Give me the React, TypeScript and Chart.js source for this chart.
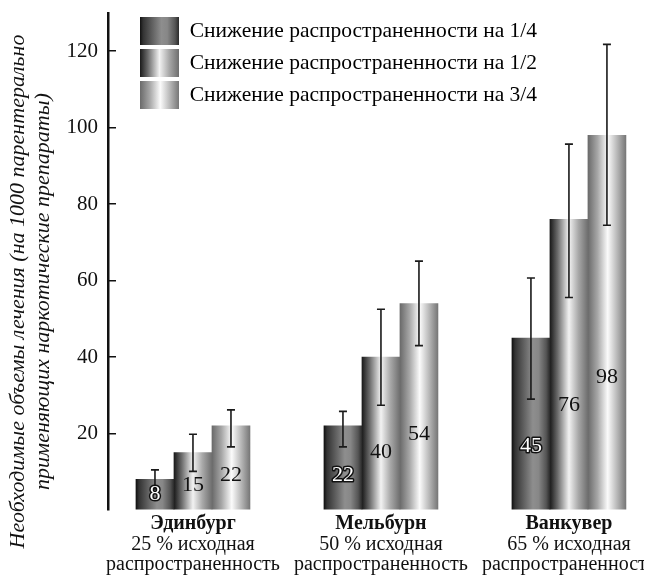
import React, { useEffect, useRef } from 'react';
import { Chart, registerables } from 'chart.js';

Chart.register(...registerables);

// ---- data ----
const categories = ['Эдинбург', 'Мельбурн', 'Ванкувер'];
const prevalenceLabels = ['25 % исходная', '50 % исходная', '65 % исходная'];
const prevalenceWord = ['распространенность', 'распространенность', 'распространенность'];
const seriesNames = [
  'Снижение распространенности на 1/4',
  'Снижение распространенности на 1/2',
  'Снижение распространенности на 3/4',
];
const quarter = [8, 22, 45];
const half = [15, 40, 76];
const threeQuarters = [22, 54, 98];
const quarterLow = [5.5, 16.5, 29.0];
const quarterHigh = [10.5, 25.8, 60.7];
const halfLow = [10.1, 27.4, 55.6];
const halfHigh = [19.8, 52.5, 95.7];
const threeQuartersLow = [16.5, 43.0, 74.5];
const threeQuartersHigh = [26.2, 65.1, 121.8];
const yTicks = [20, 40, 60, 80, 100, 120];
const yTitle = [
  'Необходимые объемы лечения (на 1000 парентерально',
  'применяющих наркотические препараты)',
];

const SERIF = "'Liberation Serif', 'DejaVu Serif', serif";
const BAR_W = 38;

type Stop = [number, string];
const STOPS: Stop[][] = [
  [[0, '#111111'], [0.08, '#333333'], [0.55, '#8e8e8e'], [0.7, '#878787'], [0.9, '#555555'], [1, '#2a2a2a']],
  [[0, '#1a1a1a'], [0.2, '#6a6a6a'], [0.5, '#f2f2f2'], [0.75, '#a8a8a8'], [1, '#6e6e6e']],
  [[0, '#6a6a6a'], [0.25, '#a6a6a6'], [0.52, '#fbfbfb'], [0.78, '#b4b4b4'], [1, '#777777']],
];

function makeGrad(ctx: CanvasRenderingContext2D, x0: number, x1: number, st: Stop[]) {
  const g = ctx.createLinearGradient(x0, 0, x1, 0);
  st.forEach(([o, c]) => g.addColorStop(o, c));
  return g;
}

export default function App() {
  const ref = useRef<HTMLCanvasElement>(null);

  useEffect(() => {
    document.body.style.overflow = 'hidden';
    const canvas = ref.current!;
    const values = [quarter, half, threeQuarters];
    const lows = [quarterLow, halfLow, threeQuartersLow];
    const highs = [quarterHigh, halfHigh, threeQuartersHigh];

    const datasets = values.map((vals, di) => ({
      label: seriesNames[di],
      data: vals.map((v, i) => ({ x: i, y: v })),
      backgroundColor: (c: any) => {
        const chart = c.chart;
        const xs = chart.scales && chart.scales.x;
        if (c.type !== 'data' || !xs || !c.parsed) return '#888888';
        const center = xs.getPixelForValue(c.parsed.x) + (c.datasetIndex - 1) * BAR_W;
        return makeGrad(chart.ctx, center - BAR_W / 2, center + BAR_W / 2, STOPS[c.datasetIndex]);
      },
      borderWidth: 0,
      barThickness: BAR_W,
    }));

    const legendShift = {
      id: 'legendShift',
      afterLayout(chart: any) {
        const lg = chart.legend;
        if (!lg) return;
        const w = lg.width;
        lg.left = chart.chartArea.left + 28;
        lg.right = lg.left + w;
        lg.top = chart.chartArea.top;
        lg.bottom = chart.chartArea.bottom;
      },
    };

    const annotations = {
      id: 'annotations',
      afterDatasetsDraw(chart: any) {
        const ctx: CanvasRenderingContext2D = chart.ctx;
        const ys = chart.scales.y;
        ctx.save();
        ctx.strokeStyle = '#1a1a1a';
        ctx.lineWidth = 1.6;
        values.forEach((_, di) => {
          const meta = chart.getDatasetMeta(di);
          meta.data.forEach((bar: any, i: number) => {
            const x = bar.x;
            const yh = ys.getPixelForValue(highs[di][i]);
            const yl = ys.getPixelForValue(lows[di][i]);
            ctx.beginPath();
            ctx.moveTo(x, yh);
            ctx.lineTo(x, yl);
            ctx.moveTo(x - 4, yh);
            ctx.lineTo(x + 4, yh);
            ctx.moveTo(x - 4, yl);
            ctx.lineTo(x + 4, yl);
            ctx.stroke();
          });
        });
        ctx.font = `22px ${SERIF}`;
        ctx.textAlign = 'center';
        ctx.textBaseline = 'middle';
        values.forEach((vals, di) => {
          const meta = chart.getDatasetMeta(di);
          meta.data.forEach((bar: any, i: number) => {
            const v = vals[i];
            const y = ys.getPixelForValue(v * 0.34 + 1.5);
            const t = String(v);
            if (di === 0) {
              ctx.lineWidth = 3;
              ctx.strokeStyle = '#111';
              ctx.lineJoin = 'round';
              ctx.strokeText(t, bar.x, y);
              ctx.fillStyle = '#ffffff';
              ctx.fillText(t, bar.x, y);
            } else {
              ctx.fillStyle = '#111111';
              ctx.fillText(t, bar.x, y);
            }
          });
        });
        ctx.restore();
      },
      afterDraw(chart: any) {
        const ctx: CanvasRenderingContext2D = chart.ctx;
        const xs = chart.scales.x;
        const area = chart.chartArea;
        ctx.save();
        ctx.fillStyle = '#111111';
        ctx.textAlign = 'center';
        ctx.textBaseline = 'middle';
        categories.forEach((cat, i) => {
          const x = xs.getPixelForValue(i);
          ctx.font = `bold 20px ${SERIF}`;
          ctx.fillText(cat, x, area.bottom + 14);
          ctx.font = `20px ${SERIF}`;
          ctx.fillText(prevalenceLabels[i], x, area.bottom + 35);
          ctx.fillText(prevalenceWord[i], x, area.bottom + 55);
        });
        // y axis title
        const mid = (area.top + area.bottom) / 2 + 30;
        ctx.font = `italic 22px ${SERIF}`;
        [10, 35].forEach((xx, li) => {
          ctx.save();
          ctx.translate(xx, mid);
          ctx.rotate(-Math.PI / 2);
          ctx.fillText(yTitle[li], 0, 0);
          ctx.restore();
        });
        ctx.restore();
      },
    };

    const chart = new Chart(canvas, {
      type: 'bar',
      data: { datasets: datasets as any },
      options: {
        responsive: false,
        animation: false,
        devicePixelRatio: 1,
        layout: { padding: { top: 5, right: 4, bottom: 68, left: 0 } },
        scales: {
          x: {
            type: 'linear',
            display: false,
            offset: false,
            min: -0.452,
            max: 2.378,
            ticks: { stepSize: 1 },
          },
          y: {
            min: 0,
            max: 130,
            ticks: {
              stepSize: 20,
              padding: 18,
              color: '#111111',
              font: { family: SERIF, size: 21 },
              callback: (v: any) => (yTicks.includes(Number(v)) ? String(v) : ''),
            },
            grid: {
              display: true,
              drawOnChartArea: false,
              drawTicks: true,
              tickLength: -8,
              lineWidth: 1.5,
              color: (c: any) =>
                c.tick && yTicks.includes(c.tick.value) ? '#111111' : 'rgba(0,0,0,0)',
            },
            border: { display: true, color: '#111111', width: 2.5 },
            afterFit: (s: any) => {
              s.width = 100;
              s.paddingTop = 0;
              s.paddingBottom = 0;
            },
          } as any,
        },
        plugins: {
          tooltip: { enabled: false },
          legend: {
            position: 'chartArea' as any,
            align: 'start',
            onClick: () => {},
            labels: {
              boxWidth: 39,
              boxHeight: 28,
              padding: 4,
              color: '#111111',
              font: { family: SERIF, size: 21.5 },
              generateLabels: (ch: any) =>
                seriesNames.map((t, i) => {
                  const left = ch.chartArea ? ch.chartArea.left + 28 + 4 : 132;
                  return {
                    text: t,
                    fillStyle: makeGrad(ch.ctx, left, left + 39, STOPS[i]),
                    strokeStyle: 'rgba(0,0,0,0)',
                    lineWidth: 0,
                    datasetIndex: i,
                    hidden: false,
                  } as any;
                }),
            },
          },
        },
      },
      plugins: [legendShift, annotations],
    });

    return () => chart.destroy();
  }, []);

  return (
    <div>
      <canvas ref={ref} width={636} height={570} style={{ display: 'block' }} />
    </div>
  );
}
